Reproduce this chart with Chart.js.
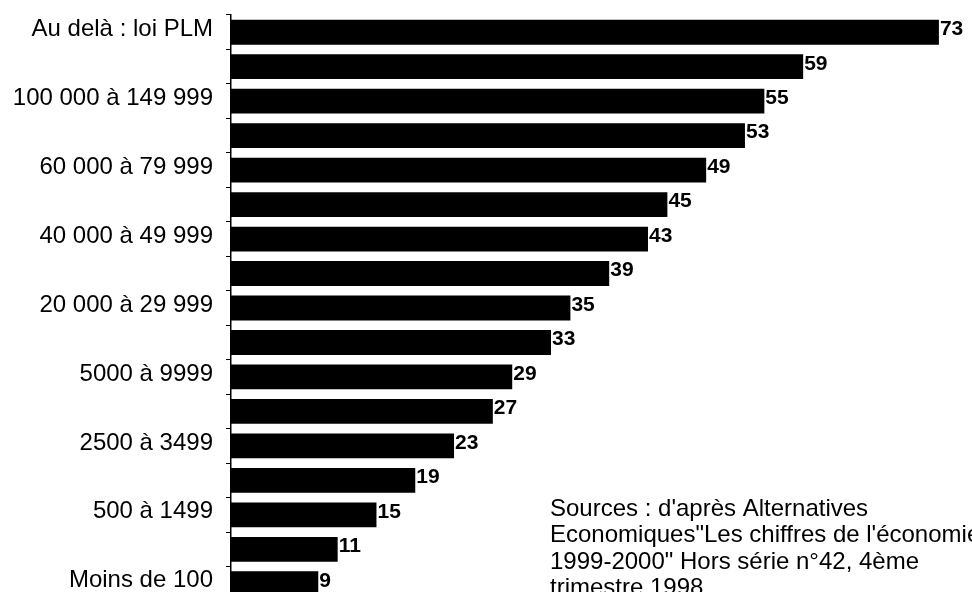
<!DOCTYPE html>
<html>
<head>
<meta charset="utf-8">
<script src="https://cdn.jsdelivr.net/npm/chart.js@4/dist/chart.umd.min.js"></script>
<style>
  html, body { margin: 0; padding: 0; background: #fff; overflow: hidden; }
  #wrap { width: 972px; height: 603px; position: relative; }
</style>
</head>
<body>
<div id="wrap"><canvas id="conseillers"></canvas></div>
<script>
  // tranches de population (du haut vers le bas)
  const tranches = [
    'Au delà : loi PLM',
    '150 000 à 199 999',
    '100 000 à 149 999',
    '80 000 à 99 999',
    '60 000 à 79 999',
    '50 000 à 59 999',
    '40 000 à 49 999',
    '30 000 à 39 999',
    '20 000 à 29 999',
    '10 000 à 19 999',
    '5000 à 9999',
    '3500 à 4999',
    '2500 à 3499',
    '1500 à 2499',
    '500 à 1499',
    '100 à 499',
    'Moins de 100'
  ];

  const nbConseillers = [73, 59, 55, 53, 49, 45, 43, 39, 35, 33, 29, 27, 23, 19, 15, 11, 9];

  const sources = [
    "Sources : d'après Alternatives",
    "Economiques\"Les chiffres de l'économie",
    "1999-2000\" Hors série n°42, 4ème",
    "trimestre 1998"
  ];

  const valeursPlugin = {
    id: 'valeurs',
    afterDatasetsDraw(chart) {
      const ctx = chart.ctx;
      const meta = chart.getDatasetMeta(0);
      ctx.save();
      ctx.fillStyle = '#000';
      ctx.font = 'bold 21px "Liberation Sans", Arial, sans-serif';
      ctx.textAlign = 'left';
      ctx.textBaseline = 'middle';
      meta.data.forEach((bar, i) => {
        ctx.fillText(nbConseillers[i], bar.x + 1, bar.y - 3);
      });
      ctx.font = '24px "Liberation Sans", Arial, sans-serif';
      sources.forEach((ligne, i) => {
        ctx.fillText(ligne, 550, 509 + i * 26.5);
      });
      ctx.restore();
    }
  };

  const dataConseillers = {
    labels: tranches,
    datasets: [{
      data: nbConseillers,
      backgroundColor: '#000',
      borderWidth: 0,
      barPercentage: 0.72,
      categoryPercentage: 1
    }]
  };

  const configConseillers = {
    type: 'bar',
    data: dataConseillers,
    options: {
      indexAxis: 'y',
      responsive: true,
      maintainAspectRatio: false,
      animation: false,
      layout: { padding: { top: 15, bottom: 2, left: 0, right: 4 } },
      plugins: {
        legend: { display: false },
        tooltip: { enabled: false }
      },
      scales: {
        x: {
          display: false,
          min: 0,
          max: 76
        },
        y: {
          afterFit(scale) {
            scale.width = 231;
            scale.paddingTop = 0;
            scale.paddingBottom = 0;
          },
          grid: {
            drawOnChartArea: false,
            drawTicks: true,
            tickLength: 5,
            color: '#000'
          },
          border: { display: true, color: '#000', width: 1.5 },
          ticks: {
            autoSkip: false,
            padding: 13,
            labelOffset: -3,
            color: '#000',
            font: { family: '"Liberation Sans", Arial, sans-serif', size: 24 },
            callback: function (value, index) {
              return index % 2 === 0 ? this.getLabelForValue(value) : '';
            }
          }
        }
      }
    },
    plugins: [valeursPlugin]
  };

  const graphique = new Chart(
    document.getElementById('conseillers'),
    configConseillers
  );
</script>
</body>
</html>
